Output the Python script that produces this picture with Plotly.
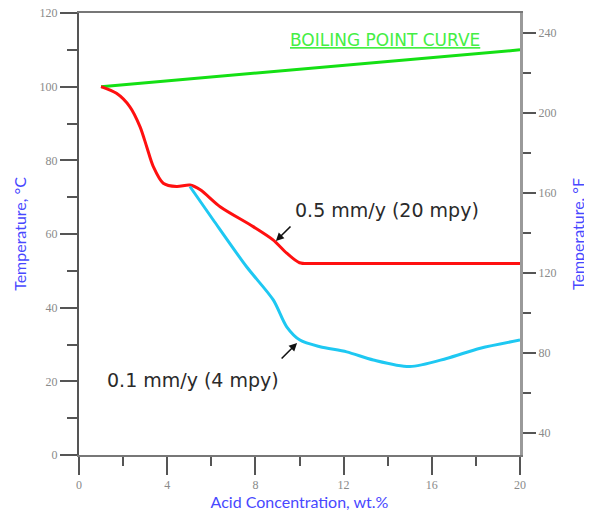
import plotly.graph_objects as go

# Data
boil_x = [1, 20]
boil_y = [100, 110]

red_x = [1.0, 1.7, 2.3, 2.77, 3.07, 3.37, 3.82, 4.43, 5.03, 5.5, 6.4, 7.9, 8.8, 9.42, 10.0, 10.6, 12, 16, 20]
red_y = [100, 98.2, 94.6, 89.1, 83.7, 78.3, 73.8, 72.9, 73.3, 72.0, 67.4, 62.0, 58.4, 54.8, 52.2, 52.0, 52.0, 52.0, 52.0]

blue_x = [5.03, 6.09, 7.6, 8.81, 9.42, 10.02, 10.93, 12.14, 13.35, 15.0, 16.67, 18.2, 20]
blue_y = [72.9, 63.8, 51.1, 42.1, 34.8, 31.2, 29.4, 28.0, 25.8, 24.0, 26.2, 29.0, 31.2]

x_ticks = [0, 4, 8, 12, 16, 20]
x_minor = [2, 6, 10, 14, 18]
yc_ticks = [0, 20, 40, 60, 80, 100, 120]
yc_minor = [10, 30, 50, 70, 90, 110]
yf_ticks = [40, 80, 120, 160, 200, 240]
yf_minor = [60, 100, 140, 180, 220]

fig = go.Figure()
fig.add_trace(go.Scatter(x=boil_x, y=boil_y, mode="lines",
                         line=dict(color="#14e014", width=3), showlegend=False))
fig.add_trace(go.Scatter(x=red_x, y=red_y, mode="lines",
                         line=dict(color="#ff1010", width=3, shape="spline", smoothing=0.8),
                         showlegend=False))
fig.add_trace(go.Scatter(x=blue_x, y=blue_y, mode="lines",
                         line=dict(color="#1ec8f2", width=3, shape="spline", smoothing=0.8),
                         showlegend=False))
# dummy trace for right axis
fig.add_trace(go.Scatter(x=[None], y=[None], yaxis="y2", showlegend=False))

tickfont = dict(family="Liberation Serif, serif", size=12, color="#8a8a8a")
titlefont = dict(family="Lato, Open Sans, sans-serif", size=16, color="#4848ff")

fig.update_layout(
    width=584, height=504,
    margin=dict(l=71, r=72, t=5, b=57),
    paper_bgcolor="white", plot_bgcolor="white",
    xaxis=dict(range=[0, 20], tickvals=x_ticks, ticks="outside", ticklen=18, tickwidth=2,
               tickcolor="#555", showline=True, linecolor="#777", linewidth=2, mirror=True,
               showgrid=False, zeroline=False, tickfont=tickfont, automargin=False,
               ticklabeloverflow="allow",
               minor=dict(tickvals=x_minor, ticks="outside", ticklen=9, tickwidth=2, tickcolor="#555"),
               title=dict(text="Acid Concentration, wt.%", font=titlefont, standoff=5)),
    yaxis=dict(range=[0, 120], tickvals=yc_ticks, ticks="outside", ticklen=17, tickwidth=2,
               tickcolor="#555", showline=True, linecolor="#555", linewidth=2,
               showgrid=False, zeroline=False, tickfont=tickfont, automargin=False,
               ticklabeloverflow="allow",
               minor=dict(tickvals=yc_minor, ticks="outside", ticklen=10, tickwidth=2, tickcolor="#555"),
               title=dict(text="Temperature, °C", font=titlefont, standoff=9)),
    yaxis2=dict(range=[29, 250], overlaying="y", side="right", tickvals=yf_ticks,
                ticks="outside", ticklen=13, tickwidth=2, tickcolor="#555",
                showline=True, linecolor="#9a9a9a", linewidth=3, automargin=False,
                ticklabeloverflow="allow",
                showgrid=False, zeroline=False, tickfont=tickfont,
                minor=dict(tickvals=yf_minor, ticks="outside", ticklen=8, tickwidth=2, tickcolor="#555"),
                title=dict(text="Temperature, °F", font=titlefont, standoff=18)),
)

fig.add_annotation(x=13.88, y=112.7, xref="x", yref="y", text="<u>BOILING POINT CURVE</u>",
                   showarrow=False, font=dict(family="DejaVu Sans, sans-serif", size=17, color="#44ee44"))
fig.add_annotation(x=13.95, y=66.5, xref="x", yref="y", text="0.5 mm/y (20 mpy)",
                   showarrow=False, font=dict(family="DejaVu Sans, sans-serif", size=19, color="#2a2a2a"))
fig.add_annotation(x=5.19, y=20.4, xref="x", yref="y", text="0.1 mm/y (4 mpy)",
                   showarrow=False, font=dict(family="DejaVu Sans, sans-serif", size=19, color="#2a2a2a"))
# arrows
fig.add_annotation(x=8.93, y=58.1, ax=9.66, ay=62.45, xref="x", yref="y", axref="x", ayref="y",
                   text="", showarrow=True, arrowhead=2, arrowsize=1, arrowwidth=1.6, arrowcolor="#111")
fig.add_annotation(x=9.89, y=30.4, ax=9.12, ay=25.8, xref="x", yref="y", axref="x", ayref="y",
                   text="", showarrow=True, arrowhead=2, arrowsize=1, arrowwidth=1.6, arrowcolor="#111")

fig.write_html("out.html")
